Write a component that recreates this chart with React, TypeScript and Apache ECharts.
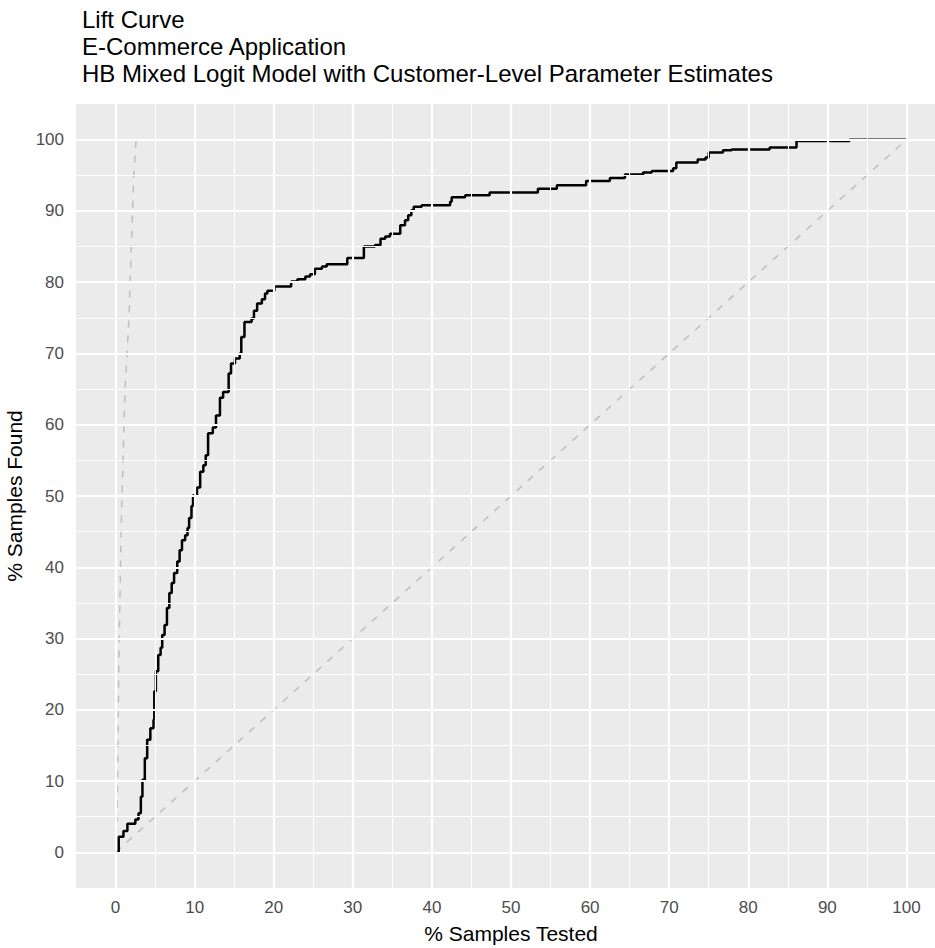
import React, { useEffect, useRef } from "react";
import * as echarts from "echarts";

const TITLE_LINES = [
  "Lift Curve",
  "E-Commerce Application",
  "HB Mixed Logit Model with Customer-Level Parameter Estimates",
];
const X_NAME = "% Samples Tested";
const Y_NAME = "% Samples Found";

const MAJOR_BREAKS = [0, 10, 20, 30, 40, 50, 60, 70, 80, 90, 100];
const MINOR_BREAKS = [5, 15, 25, 35, 45, 55, 65, 75, 85, 95];

// model lift curve (step, horizontal then vertical)
const MODEL_X = [
  0, 0.4, 1.0, 1.5, 2.5, 2.9, 3.2, 3.4, 3.7, 4.0, 4.4, 4.8, 4.9, 5.1, 5.4, 5.7, 5.9, 6.2, 6.5, 6.8,
  7.1, 7.4, 7.8, 8.1, 8.4, 8.8, 9.1, 9.3, 9.6, 9.8, 10.3, 10.7, 11.1, 11.4, 11.7, 12.3, 12.7, 13.2,
  13.6, 14.3, 14.6, 15.1, 15.7, 15.9, 16.3, 17.2, 17.5, 17.9, 18.5, 18.9, 19.2, 20.1, 22.2, 23.0,
  24.0, 24.6, 25.2, 26.1, 26.7, 29.3, 31.4, 32.8, 33.5, 34.1, 34.7, 36.0, 36.6, 37.0, 37.4, 37.7,
  38.7, 42.3, 42.5, 44.2, 47.3, 53.4, 55.8, 59.5, 62.5, 64.4, 66.7, 67.8, 70.5, 70.9, 73.6, 74.6,
  75.0, 76.8, 77.9, 82.7, 86.1, 92.8, 100,
];
const MODEL_Y = [
  0, 2.2, 3.0, 4.0, 4.6, 5.5, 7.8, 10.2, 13.2, 15.8, 17.4, 18.6, 22.6, 25.4, 27.7, 28.7, 30.5, 31.9,
  34.3, 36.4, 37.8, 39.2, 40.8, 42.4, 43.8, 44.5, 45.5, 46.9, 48.6, 50.1, 51.2, 53.4, 54.3, 55.7,
  58.8, 59.6, 61.3, 63.8, 64.6, 67.2, 68.6, 69.3, 70.0, 72.3, 74.4, 74.9, 76.0, 77.0, 77.6, 78.4,
  78.8, 79.4, 80.1, 80.4, 80.8, 81.1, 81.9, 82.2, 82.5, 83.4, 85.0, 85.2, 86.1, 86.4, 86.8, 88.0,
  88.7, 89.4, 90.1, 90.6, 90.8, 91.3, 91.9, 92.2, 92.6, 93.1, 93.6, 94.2, 94.6, 95.1, 95.4, 95.6,
  96.0, 96.8, 97.2, 97.5, 98.2, 98.5, 98.6, 98.9, 99.8, 100, 100,
];

// perfect model curve
const PERFECT_X = [0, 0.2, 0.4, 0.7, 1.2, 1.7, 2.3, 2.6, 100];
const PERFECT_Y = [0, 5, 25, 45, 65, 75, 95, 100, 100];

// random (baseline) diagonal
const BASE_X = [0, 100];
const BASE_Y = [0, 100];

const FONT = "Liberation Sans, Arial, sans-serif";

function zip(xs: number[], ys: number[]) {
  return xs.map((x, i) => [x, ys[i]]);
}

export default function App() {
  const ref = useRef<HTMLDivElement>(null);

  useEffect(() => {
    document.body.style.margin = "0";
    if (!ref.current) return;
    const chart = echarts.init(ref.current, undefined, { renderer: "svg" });

    const gridLines: any[] = [];
    MINOR_BREAKS.forEach((v) => {
      gridLines.push({ xAxis: v, lineStyle: { color: "#ffffff", width: 1.1, type: "solid" } });
      gridLines.push({ yAxis: v, lineStyle: { color: "#ffffff", width: 1.1, type: "solid" } });
    });
    MAJOR_BREAKS.forEach((v) => {
      gridLines.push({ xAxis: v, lineStyle: { color: "#ffffff", width: 2.2, type: "solid" } });
      gridLines.push({ yAxis: v, lineStyle: { color: "#ffffff", width: 2.2, type: "solid" } });
    });

    const axisCommon = {
      type: "value" as const,
      min: -5,
      max: 105,
      axisLine: { show: false },
      splitLine: { show: false },
      axisTick: {
        show: true,
        customValues: MAJOR_BREAKS,
        length: 6,
        lineStyle: { color: "#333333", width: 1.5 },
      },
      axisLabel: {
        customValues: MAJOR_BREAKS,
        color: "#4D4D4D",
        fontSize: 17,
        fontFamily: FONT,
      },
      nameLocation: "middle" as const,
      nameTextStyle: { color: "#000000", fontSize: 21, fontFamily: FONT },
    };

    chart.setOption({
      animation: false,
      title: {
        text: TITLE_LINES.join("\n"),
        left: 77,
        top: 1,
        textStyle: {
          color: "#000000",
          fontSize: 24,
          fontWeight: "normal",
          fontFamily: FONT,
          lineHeight: 27,
        },
      },
      grid: {
        left: 76,
        top: 104,
        width: 870,
        height: 784,
        show: true,
        backgroundColor: "#EBEBEB",
        borderWidth: 0,
        containLabel: false,
        outerBoundsMode: "none",
      },
      xAxis: {
        ...axisCommon,
        name: X_NAME,
        nameGap: 35,
        axisLabel: { ...axisCommon.axisLabel, margin: 11 },
      },
      yAxis: {
        ...axisCommon,
        name: Y_NAME,
        nameGap: 45,
        axisLabel: { ...axisCommon.axisLabel, margin: 12 },
      },
      series: [
        {
          type: "line",
          data: [],
          z: 1,
          silent: true,
          markLine: {
            silent: true,
            symbol: ["none", "none"],
            label: { show: false },
            animation: false,
            data: gridLines,
          },
        },
        {
          type: "line",
          data: zip(BASE_X, BASE_Y),
          showSymbol: false,
          symbol: "none",
          z: 2,
          lineStyle: { color: "#BEBEBE", width: 1.5, type: [7, 8] },
        },
        {
          type: "line",
          data: zip(PERFECT_X, PERFECT_Y),
          showSymbol: false,
          symbol: "none",
          z: 2,
          lineStyle: { color: "#BEBEBE", width: 1.5, type: [7, 8] },
        },
        {
          type: "line",
          data: zip(MODEL_X, MODEL_Y),
          step: "end",
          showSymbol: false,
          symbol: "none",
          z: 3,
          lineStyle: { color: "#000000", width: 2.5 },
        },
      ],
    });

    return () => chart.dispose();
  }, []);

  return <div ref={ref} style={{ width: 935, height: 948 }} />;
}
